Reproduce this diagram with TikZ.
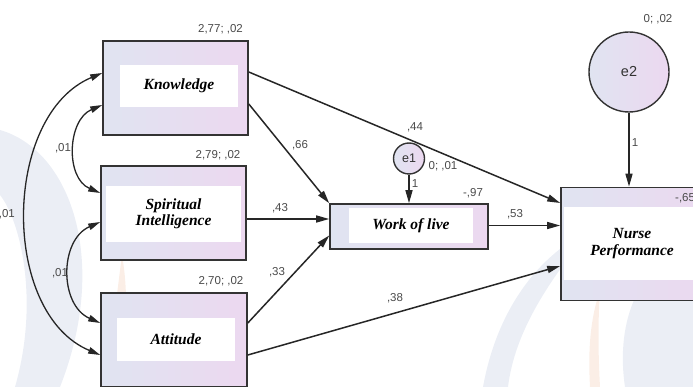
\documentclass[tikz,border=0pt]{standalone}
\usepackage{fontspec}
\setmainfont{Liberation Serif}
\newfontfamily\numfont{Liberation Sans}
\usetikzlibrary{arrows.meta}
\definecolor{boxL}{HTML}{E0E4F1}
\definecolor{boxR}{HTML}{ECD8F0}
\definecolor{edge}{HTML}{333333}
\definecolor{numc}{HTML}{4A4A4A}
\definecolor{wmblue}{HTML}{EBEEF5}
\definecolor{wmorange}{HTML}{FBEEE6}
\begin{document}
\begin{tikzpicture}[x=1pt,y=-1pt,
  varbox/.style={draw=edge, line width=1.6pt, left color=boxL, right color=boxR, inner sep=0pt},
  inbox/.style={fill=white, inner sep=0pt, align=center, font=\fontsize{15.5}{16.5}\selectfont\bfseries\itshape},
  errc/.style={circle, draw=edge, line width=1.4pt, left color=boxL, right color=boxR, inner sep=0pt, font=\numfont\color{edge}},
  num/.style={font=\numfont\fontsize{11.5}{12}\selectfont, text=numc, inner sep=0pt},
  path/.style={draw=black!85, line width=1.5pt, -{Triangle[length=13pt,width=7pt]}},
  cov/.style={draw=black!85, line width=1.3pt, {Triangle[length=12pt,width=6.5pt]}-{Triangle[length=12pt,width=6.5pt]}}]
\useasboundingbox (0,0) rectangle (693,387);
\clip (0,0) rectangle (693,387);
% watermark
\fill[wmblue] (0,130) .. controls (70,150) and (110,260) .. (60,387) -- (15,387) .. controls (40,300) and (20,220) .. (0,195) -- cycle;
\fill[wmorange] (122,255) .. controls (130,300) and (125,350) .. (118,387) -- (105,387) .. controls (112,340) and (116,300) .. (122,255) -- cycle;
\fill[wmblue] (483,387) .. controls (495,320) and (530,260) .. (590,230) .. controls (550,280) and (515,330) .. (508,387) -- cycle;
\fill[wmblue] (693,250) .. controls (640,260) and (615,320) .. (625,387) -- (693,387) -- cycle;
\fill[wmorange] (600,290) .. controls (590,320) and (588,350) .. (590,387) -- (600,387) .. controls (598,350) and (598,320) .. (600,290) -- cycle;
% boxes
\node[varbox, minimum width=145pt, minimum height=94pt] (know) at (175.5,88) {};
\node[inbox, minimum width=118pt, minimum height=42pt] (knowt) at (179,86) {Knowledge};
\node[varbox, minimum width=145pt, minimum height=94pt] (spir) at (173.5,213) {};
\node[inbox, minimum width=135pt, minimum height=56pt] (spirt) at (173.5,214) {Spiritual\\Intelligence};
\node[varbox, minimum width=146pt, minimum height=94pt] (att) at (174,340) {};
\node[inbox, minimum width=118pt, minimum height=43pt] (attt) at (176,339.5) {Attitude};
\node[varbox, minimum width=158pt, minimum height=45pt] (work) at (409,226.5) {};
\node[inbox, minimum width=124pt, minimum height=35pt] (workt) at (411,225.5) {Work of live};
\node[varbox, minimum width=150pt, minimum height=113pt] (nurse) at (636,244) {};
\node[inbox, minimum width=136pt, minimum height=73pt] (nurset) at (632,243.5) {Nurse\\Performance};
% error terms
\node[errc, minimum size=31pt, font=\numfont\fontsize{12.5}{12}\selectfont\color{edge}] (e1) at (409,158.5) {e1};
\node[errc, minimum size=80pt, font=\numfont\fontsize{14.5}{14}\selectfont\color{edge}] (e2) at (629,72) {e2};
% paths
\draw[path] ([yshift=16pt]know.east) -- ([yshift=41pt]nurse.west);
\draw[path] ([yshift=-16pt]know.east) -- (work.north west);
\draw[path] ([yshift=-6pt]spir.east) -- ([yshift=-6pt]spir.east -| work.west);
\draw[path] ([yshift=17pt]att.east) -- ([yshift=-9pt]work.west);
\draw[path] ([yshift=-15pt]att.east) -- ([yshift=-22pt]nurse.west);
\draw[path] ([yshift=1pt]work.east) -- ([yshift=1pt]work.east -| nurse.west);
\draw[path] (e1.south) -- (e1.south |- work.north);
\draw[path] (e2.south) -- (e2.south |- nurse.north);
% covariances
\draw[cov] ([yshift=15pt]know.west) .. controls +(-100,42) and +(-100,-42) .. ([yshift=-15pt]att.west);
\draw[cov] ([yshift=-17pt]know.west) .. controls +(-35,15) and +(-35,-15) .. ([yshift=20pt]spir.west);
\draw[cov] ([yshift=-9pt]spir.west) .. controls +(-41,18) and +(-41,-18) .. ([yshift=17pt]att.west);
% numbers
\node[num] (nk) at (220.5,29) {2,77; ,02};
\node[num] (ns) at (218,155) {2,79; ,02};
\node[num] (na) at (221,281) {2,70; ,02};
\node[num] (ne2) at (658,19) {0; ,02};
\node[num] (n44) at (415,127) {,44};
\node[num] (ne1) at (443,166) {0; ,01};
\node[num] (n1a) at (415,184) {1};
\node[num] (n97) at (473,193) {-,97};
\node[num] (n53) at (515,214) {,53};
\node[num, anchor=west] (n65) at (675,198) {-,65};
\node[num] (n66) at (300,145) {,66};
\node[num] (n43) at (280,208) {,43};
\node[num] (n33) at (277,272) {,33};
\node[num] (n38) at (395,298) {,38};
\node[num] (n1b) at (635,143) {1};
\node[num] (c1) at (63,148) {,01};
\node[num] (c2) at (60,273) {,01};
\node[num, anchor=east] (c3) at (15,214) {,01};
\end{tikzpicture}
\end{document}
